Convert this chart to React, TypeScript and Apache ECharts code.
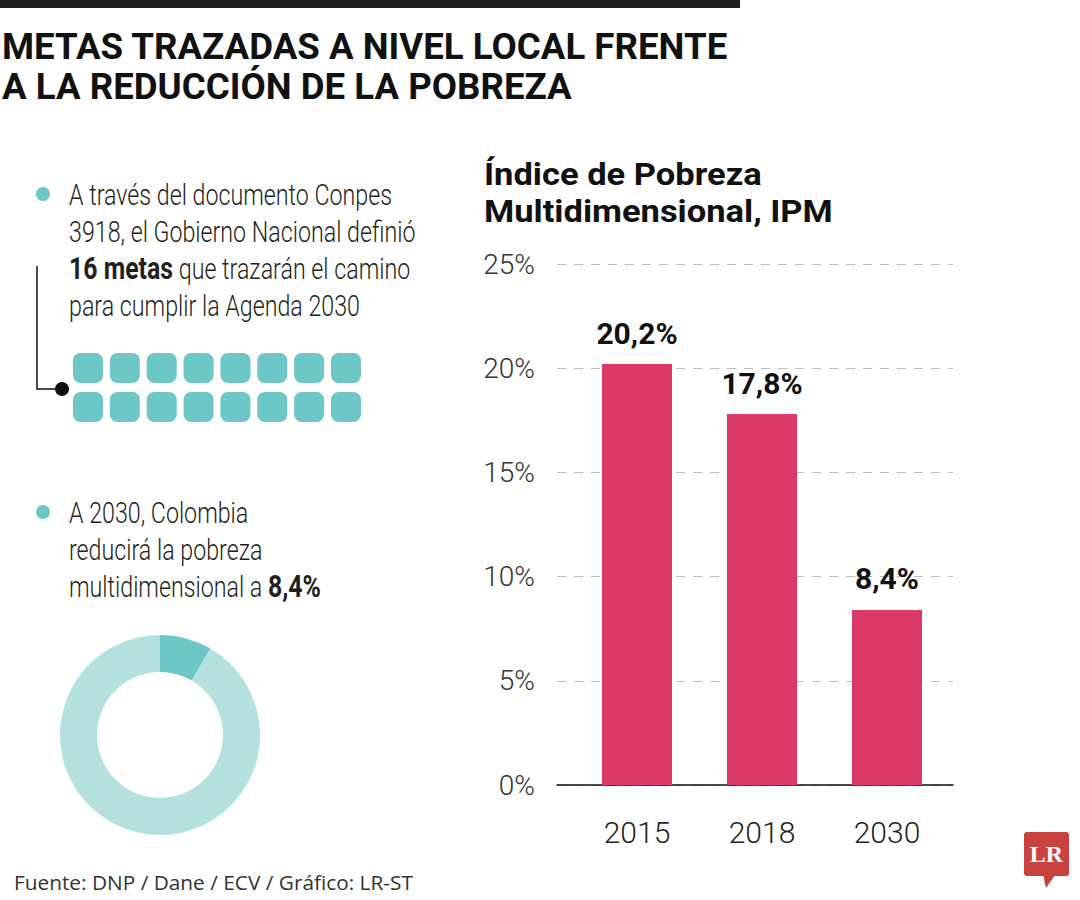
import React, { useEffect, useRef } from "react";
import * as echarts from "echarts";

// ---- Data ----
const years = ["2015", "2018", "2030"];
const ipmValues = [20.2, 17.8, 8.4];
const yMin = 0;
const yMax = 25;
const yInterval = 5;
const donutTarget = 8.4;
const donutRest = 91.6;
const metasCount = 16;
const metasPerRow = 8;

const titleLines = ["METAS TRAZADAS A NIVEL LOCAL FRENTE", "A LA REDUCCIÓN DE LA POBREZA"];
const chartHeading = ["Índice de Pobreza", "Multidimensional, IPM"];
const bullet1Lines = [
  "A través del documento Conpes",
  "3918, el Gobierno Nacional definió",
  "{b|16 metas} que trazarán el camino",
  "para cumplir la Agenda 2030",
];
const bullet2Lines = ["A 2030, Colombia", "reducirá la pobreza", "multidimensional a {b|8,4%}"];
const sourceText = "Fuente: DNP / Dane / ECV / Gráfico: LR-ST";

// ---- Styles ----
const FONT = "Roboto, 'Noto Sans', sans-serif";
const TEAL = "#6CC7C6";
const TEAL_LIGHT = "#B5E0E0";
const BAR = "#DB3A69";
const INK = "#231F20";

const fmt = (v: number) => v.toFixed(1).replace(".", ",") + "%";

function measure(text: string, weight: string | number, size: number, family: string) {
  const ctx = document.createElement("canvas").getContext("2d");
  if (!ctx) return 1;
  ctx.font = `${weight} ${size}px ${family}`;
  return ctx.measureText(text).width || 1;
}

export default function App() {
  const ref = useRef<HTMLDivElement>(null);
  useEffect(() => {
    if (!ref.current) return;
    const chart = echarts.init(ref.current, undefined, { renderer: "svg" });

    const metasPoints = Array.from({ length: metasCount }, (_, i) => [i % metasPerRow, Math.floor(i / metasPerRow)]);

    // horizontal squeeze factors to imitate the condensed typeface of the original
    const titleSize = 37;
    const titleScale = 726 / measure(titleLines[0], "bold", titleSize, FONT);
    const headSize = 32;
    const headScale = 349 / measure(chartHeading[1], "bold", headSize, FONT);
    const bodySize = 29;
    const bodyScale = 323 / measure(bullet1Lines[0], 300, bodySize, FONT);
    const srcSize = 20;
    const srcFamily = "'Open Sans', sans-serif";
    const srcScale = 399 / measure(sourceText, "normal", srcSize, srcFamily);

    const bodyText = (lines: string[], x: number, y0: number) =>
      lines.map((t, i) => ({
        type: "text",
        x,
        y: y0 + i * 37,
        scaleX: bodyScale,
        style: {
          text: t,
          fontFamily: FONT,
          fontSize: bodySize,
          fontWeight: 300,
          fill: INK,
          verticalAlign: "middle",
          rich: { b: { fontFamily: FONT, fontSize: bodySize + 2, fontWeight: "bold", fill: INK } },
        },
      }));

    const graphics: any[] = [
      { type: "rect", shape: { x: 0, y: 0, width: 740, height: 8 }, style: { fill: "#1E1E1E" } },
      ...titleLines.map((t, i) => ({
        type: "text",
        x: 2,
        y: 46 + i * 40,
        scaleX: titleScale,
        style: { text: t, fontFamily: FONT, fontSize: titleSize, fontWeight: "bold", fill: "#111", verticalAlign: "middle" },
      })),
      ...chartHeading.map((t, i) => ({
        type: "text",
        x: 484,
        y: 174 + i * 37,
        scaleX: headScale,
        style: { text: t, fontFamily: FONT, fontSize: headSize, fontWeight: "bold", fill: "#111", verticalAlign: "middle" },
      })),
      { type: "circle", shape: { cx: 43, cy: 194, r: 7 }, style: { fill: TEAL } },
      { type: "circle", shape: { cx: 43, cy: 512, r: 7 }, style: { fill: TEAL } },
      ...bodyText(bullet1Lines, 69, 195),
      ...bodyText(bullet2Lines, 69, 513),
      {
        type: "polyline",
        shape: { points: [[37, 266], [37, 389], [62, 389]] },
        style: { stroke: "#111", lineWidth: 1.5, fill: "none" },
      },
      { type: "circle", shape: { cx: 62, cy: 389, r: 7 }, style: { fill: "#111" } },
      {
        type: "text",
        x: 14,
        y: 882,
        scaleX: srcScale,
        style: { text: sourceText, fontFamily: srcFamily, fontSize: srcSize, fill: "#333", verticalAlign: "middle" },
      },
      { type: "rect", shape: { x: 1024, y: 832, width: 45, height: 44, r: 3 }, style: { fill: "#C9423F" } },
      { type: "polygon", shape: { points: [[1043, 874], [1056, 874], [1046, 888]] }, style: { fill: "#C9423F" } },
      {
        type: "text",
        x: 1046.5,
        y: 854,
        style: {
          text: "LR",
          fontFamily: "'Liberation Serif', 'DejaVu Serif', serif",
          fontSize: 24,
          fontWeight: "bold",
          fill: "#fff",
          align: "center",
          verticalAlign: "middle",
        },
      },
    ];

    chart.setOption({
      animation: false,
      backgroundColor: "#fff",
      grid: [
        { left: 557, width: 396, top: 264, height: 521 },
        { left: 574.5, width: 375, top: 264, height: 521 },
        { left: 88, width: 258, top: 368, height: 39 },
      ],
      xAxis: [
        {
          gridIndex: 0,
          type: "value",
          min: 0,
          max: 1,
          axisLine: { show: true, onZero: false, lineStyle: { color: "#111", width: 1.5 } },
          axisTick: { show: false },
          axisLabel: { show: false },
          splitLine: { show: false },
        },
        {
          gridIndex: 1,
          type: "category",
          data: years,
          axisLine: { show: false },
          axisTick: { show: false },
          axisLabel: { margin: 32, fontFamily: FONT, fontWeight: 300, fontSize: 30, color: INK },
        },
        { gridIndex: 2, type: "value", min: 0, max: metasPerRow - 1, show: false },
      ],
      yAxis: [
        {
          gridIndex: 0,
          type: "value",
          min: yMin,
          max: yMax,
          interval: yInterval,
          axisLine: { show: false },
          axisTick: { show: false },
          axisLabel: {
            margin: 22,
            formatter: "{value}%",
            fontFamily: FONT,
            fontWeight: 300,
            fontSize: 28,
            color: "#333",
          },
          splitLine: { show: true, lineStyle: { color: "#BDBDBD", type: [9, 8], width: 1 } },
        },
        { gridIndex: 1, type: "value", min: yMin, max: yMax, interval: yInterval, show: false },
        { gridIndex: 2, type: "value", min: 0, max: 1, inverse: true, show: false },
      ],
      series: [
        {
          type: "bar",
          xAxisIndex: 1,
          yAxisIndex: 1,
          data: ipmValues,
          barWidth: 70,
          itemStyle: { color: BAR },
          silent: true,
          label: {
            show: true,
            position: "top",
            distance: 16,
            formatter: (p: any) => fmt(p.value),
            fontFamily: FONT,
            fontWeight: "bold",
            fontSize: 30,
            color: "#111",
          },
        },
        {
          type: "scatter",
          xAxisIndex: 2,
          yAxisIndex: 2,
          data: metasPoints,
          symbol: "roundRect",
          symbolSize: [30, 30],
          itemStyle: { color: TEAL, opacity: 1 },
          silent: true,
        },
        {
          type: "pie",
          center: [160, 735],
          radius: [63, 100],
          startAngle: 90,
          clockwise: true,
          silent: true,
          label: { show: false },
          labelLine: { show: false },
          data: [
            { value: donutTarget, itemStyle: { color: TEAL } },
            { value: donutRest, itemStyle: { color: TEAL_LIGHT } },
          ],
        },
      ],
      graphic: graphics,
    });
    return () => chart.dispose();
  }, []);
  return (
    <div
      ref={ref}
      style={{ position: "absolute", left: 0, top: 0, width: 1080, height: 900, background: "#fff" }}
    />
  );
}
